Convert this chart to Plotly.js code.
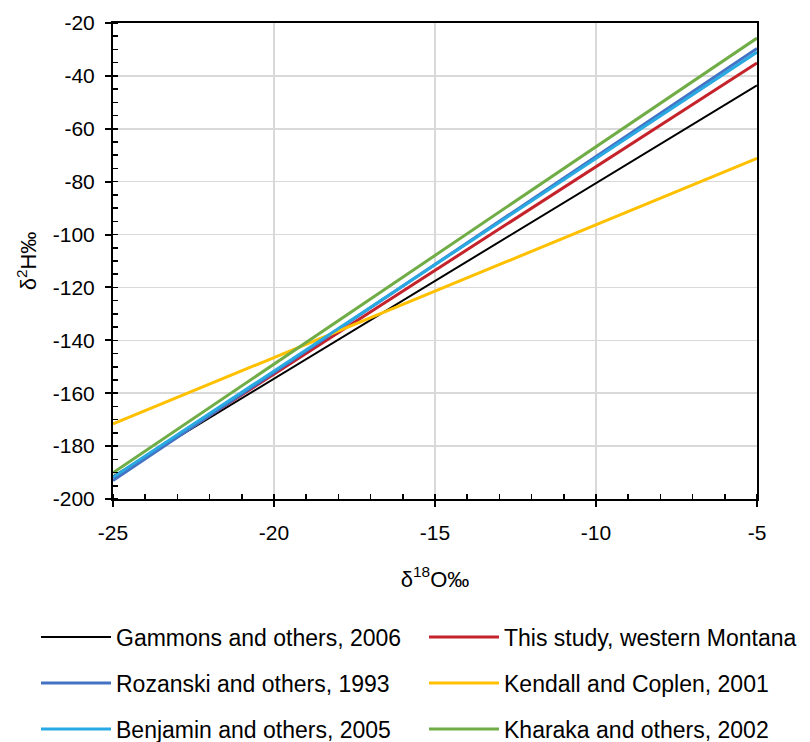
<!DOCTYPE html>
<html>
<head>
<meta charset="utf-8">
<script src="https://cdn.plot.ly/plotly-3.0.1.min.js"></script>
<style>body{margin:0;padding:0;background:#fff;}#chart{width:810px;height:742px;}</style>
</head>
<body>
<div id="chart"></div>
<script>
// delta18O endpoints (per mil)
const xEnds = [-25, -5];
// delta2H values at the endpoints for each meteoric water line
const seriesNames = [
  "Gammons and others, 2006",
  "This study, western Montana",
  "Rozanski and others, 1993",
  "Kendall and Coplen, 2001",
  "Benjamin and others, 2005",
  "Kharaka and others, 2002"
];
const gammons   = [-191.5, -43.6];
const thisStudy = [-192.0, -35.1];
const rozanski  = [-193.0, -29.6];
const kendall   = [-171.6, -71.2];
const benjamin  = [-191.8, -31.0];
const kharaka   = [-190.1, -25.7];

// tick labels (hyphen-minus as in the reference)
const xTickVals = [-25, -20, -15, -10, -5];
const xTickText = ["-25", "-20", "-15", "-10", "-5"];
const yTickVals = [-200, -180, -160, -140, -120, -100, -80, -60, -40, -20];
const yTickText = ["-200", "-180", "-160", "-140", "-120", "-100", "-80", "-60", "-40", "-20"];

const seriesValues = [gammons, thisStudy, rozanski, kendall, benjamin, kharaka];
const colors = ["#000000", "#C5232B", "#4472C4", "#FFC000", "#29A9E1", "#70AD47"];
const widths = [2, 3, 3, 3, 3, 3];
const legendIds = ["legend", "legend2", "legend3", "legend4", "legend5", "legend6"];

const traces = seriesNames.map((n, i) => ({
  type: "scatter", mode: "lines", name: n,
  x: xEnds, y: seriesValues[i],
  line: {color: colors[i], width: widths[i]},
  legend: legendIds[i]
}));

const FAM = "Liberation Sans, Arial, sans-serif";
const tickFont = {family: FAM, size: 21, color: "#000"};
const titleFont = {family: FAM, size: 22, color: "#000"};
const legFont = {family: FAM, size: 23, color: "#000"};

// legend grid: 2 columns x 3 rows (row-wise order, as in the reference)
const colPx = [36, 424];
const rowPx = [637, 683, 729];
function leg(i) {
  const c = i % 2, r = Math.floor(i / 2);
  return {orientation: "v", x: (colPx[c] - 113) / 644, xanchor: "left",
    y: (499 - rowPx[r]) / 476, yanchor: "middle",
    font: legFont, bgcolor: "rgba(0,0,0,0)", itemwidth: 70};
}

const layout = {
  width: 810, height: 742,
  margin: {l: 113, r: 53, t: 23, b: 243, autoexpand: false},
  paper_bgcolor: "#fff", plot_bgcolor: "#fff",
  font: tickFont,
  showlegend: true,
  xaxis: {
    range: [-25, -5], tickmode: "array", tickvals: xTickVals, ticktext: xTickText,
    showline: true, linecolor: "#000", linewidth: 2, mirror: true,
    ticks: "outside", ticklen: 6, tickwidth: 2, tickcolor: "#000",
    showgrid: true, gridcolor: "#d9d9d9", gridwidth: 1.5,
    zeroline: false, automargin: false,
    minor: {dtick: 1, tick0: -25, ticks: "inside", ticklen: 5, tickwidth: 1.5, tickcolor: "#000", showgrid: false},
    tickfont: tickFont, ticklabelstandoff: 8,
    title: {text: "δ<sup>18</sup>O‰", font: titleFont, standoff: 28}
  },
  yaxis: {
    range: [-200, -20], tickmode: "array", tickvals: yTickVals, ticktext: yTickText,
    showline: true, linecolor: "#000", linewidth: 2, mirror: true,
    ticks: "outside", ticklen: 6, tickwidth: 2, tickcolor: "#000",
    showgrid: true, gridcolor: "#d9d9d9", gridwidth: 1.5,
    zeroline: false, automargin: false,
    minor: {dtick: 5, tick0: -200, ticks: "inside", ticklen: 5, tickwidth: 1.5, tickcolor: "#000", showgrid: false},
    tickfont: tickFont, ticklabelstandoff: 6,
    title: {text: "δ<sup>2</sup>H‰", font: titleFont, standoff: 10}
  }
};
legendIds.forEach((id, i) => { layout[id] = leg(i); });

Plotly.newPlot("chart", traces, layout, {displayModeBar: false, staticPlot: true});
</script>
</body>
</html>
